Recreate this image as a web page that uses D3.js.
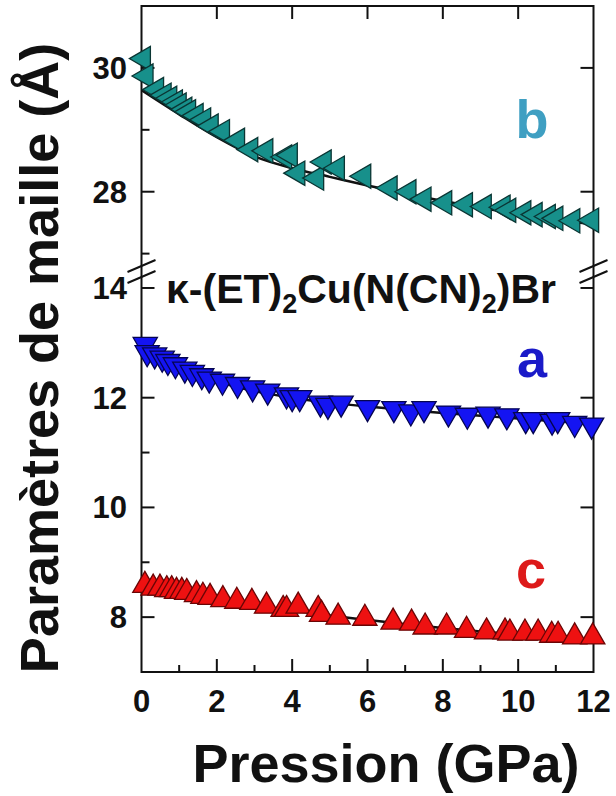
<!DOCTYPE html>
<html>
<head>
<meta charset="utf-8">
<script src="https://cdn.jsdelivr.net/npm/d3@7"></script>
<style>
  html, body { margin: 0; padding: 0; background: #fff; }
  svg { display: block; }
  text { font-family: "Liberation Sans", Arial, sans-serif; font-weight: bold; }
</style>
</head>
<body>
<svg id="chart" width="616" height="796"></svg>
<script>
// ---- data ----
const bX = [0.05, 0.12, 0.4, 0.6, 0.75, 0.9, 1.0, 1.15, 1.25, 1.45, 1.65, 1.85, 2.15, 2.55, 2.9, 3.3, 3.8, 3.95, 4.15, 4.65, 4.85, 5.2, 5.9, 6.6, 7.1, 7.5, 8.05, 8.6, 9.1, 9.6, 9.75, 10.15, 10.45, 10.8, 11.0, 11.45, 11.95];
const bV = [30.15, 29.87, 29.65, 29.56, 29.51, 29.45, 29.40, 29.33, 29.29, 29.23, 29.16, 29.06, 28.97, 28.83, 28.68, 28.66, 28.56, 28.59, 28.30, 28.22, 28.48, 28.38, 28.25, 28.06, 28.00, 27.88, 27.82, 27.79, 27.76, 27.75, 27.70, 27.66, 27.63, 27.60, 27.57, 27.53, 27.54];

const aX = [0.1, 0.15, 0.35, 0.55, 0.7, 0.9, 1.15, 1.35, 1.6, 1.8, 2.15, 2.55, 2.95, 3.35, 3.85, 4.0, 4.2, 4.75, 4.95, 5.3, 6.0, 6.7, 7.15, 7.5, 8.15, 8.65, 9.2, 9.7, 10.2, 10.4, 10.9, 11.05, 11.5, 11.95];
const aV = [12.97, 12.82, 12.78, 12.72, 12.66, 12.60, 12.52, 12.46, 12.40, 12.34, 12.30, 12.24, 12.18, 12.12, 12.05, 12.00, 12.00, 11.90, 11.86, 11.90, 11.82, 11.80, 11.74, 11.80, 11.72, 11.68, 11.70, 11.67, 11.60, 11.60, 11.57, 11.60, 11.53, 11.50];

const cX = [0.09, 0.31, 0.49, 0.67, 0.8, 0.93, 1.07, 1.2, 1.46, 1.63, 1.82, 2.16, 2.53, 2.93, 3.32, 3.76, 3.85, 4.16, 4.69, 4.78, 5.22, 5.93, 6.68, 7.17, 7.53, 8.1, 8.63, 9.16, 9.65, 9.78, 10.18, 10.53, 10.89, 11.06, 11.5, 11.98];
const cV = [8.58, 8.53, 8.53, 8.50, 8.50, 8.47, 8.47, 8.45, 8.41, 8.38, 8.36, 8.32, 8.29, 8.27, 8.20, 8.14, 8.14, 8.20, 8.14, 8.05, 8.00, 7.98, 7.91, 7.89, 7.82, 7.82, 7.76, 7.73, 7.73, 7.71, 7.71, 7.71, 7.67, 7.67, 7.64, 7.64];

const fitX = [0, 1, 2, 3, 4, 5, 6, 7, 8, 9, 10, 11, 12];
const bFit = [29.64, 29.25, 28.88, 28.57, 28.38, 28.24, 28.10, 27.97, 27.85, 27.74, 27.64, 27.55, 27.47];
const aFit = [12.90, 12.56, 12.30, 12.12, 12.00, 11.91, 11.84, 11.78, 11.72, 11.67, 11.62, 11.57, 11.52];
const cFit = [8.47, 8.38, 8.29, 8.20, 8.12, 8.03, 7.95, 7.87, 7.80, 7.74, 7.68, 7.62, 7.57];

const xTickMajor = [0, 2, 4, 6, 8, 10, 12];
const xTickMinor = [1, 3, 5, 7, 9, 11];
const yTopMajor = [28, 30];
const yTopMinor = [27, 29];
const yBotMajor = [8, 10, 12, 14];
const yBotMinor = [9, 11, 13];

const seriesNames = ["b", "a", "c"];
const xTitle = "Pression (GPa)";
const yTitle = "Paramètres de maille (Å)";

// ---- layout ----
const L = 141.5, R = 593.5, T = 6, B = 672;
const svg = d3.select("#chart");

const x = d3.scaleLinear().domain([0, 12]).range([L, R]);
const yTop = d3.scaleLinear().domain([26.8, 31]).range([266, T]);
const yBot = d3.scaleLinear().domain([7, 14.2]).range([B, 277]);

// frame
svg.append("rect").attr("x", L).attr("y", T).attr("width", R - L).attr("height", B - T)
  .attr("fill", "none").attr("stroke", "#111").attr("stroke-width", 2);

// ticks
const tk = svg.append("g").attr("stroke", "#111").attr("stroke-width", 2);
xTickMajor.filter(d => d > 0 && d < 12).forEach(d => {
  tk.append("line").attr("x1", x(d)).attr("x2", x(d)).attr("y1", B).attr("y2", B - 13);
  tk.append("line").attr("x1", x(d)).attr("x2", x(d)).attr("y1", T).attr("y2", T + 13);
});
xTickMinor.forEach(d => {
  tk.append("line").attr("x1", x(d)).attr("x2", x(d)).attr("y1", B).attr("y2", B - 7);
});
function yTicks(scale, major, minor) {
  major.forEach(d => {
    tk.append("line").attr("x1", L).attr("x2", L + 13).attr("y1", scale(d)).attr("y2", scale(d));
    tk.append("line").attr("x1", R).attr("x2", R - 13).attr("y1", scale(d)).attr("y2", scale(d));
  });
  minor.forEach(d => {
    tk.append("line").attr("x1", L).attr("x2", L + 8).attr("y1", scale(d)).attr("y2", scale(d));
  });
}
yTicks(yTop, yTopMajor, yTopMinor);
yTicks(yBot, yBotMajor, yBotMinor);

// break marks
[L, R].forEach(cx => {
  [0, 11].forEach(off => {
    tk.append("line").attr("x1", cx - 14).attr("y1", 272 + off).attr("x2", cx + 14).attr("y2", 260 + off);
  });
});

// tick labels
const tl = svg.append("g").attr("font-size", 31).attr("fill", "#111");
xTickMajor.forEach(d => {
  tl.append("text").attr("x", x(d)).attr("y", 712).attr("text-anchor", "middle").text(d);
});
yTopMajor.forEach(d => {
  tl.append("text").attr("x", 127).attr("y", yTop(d) + 11).attr("text-anchor", "end").text(d);
});
yBotMajor.forEach(d => {
  tl.append("text").attr("x", 127).attr("y", yBot(d) + 11).attr("text-anchor", "end").text(d);
});

// axis titles
svg.append("text").attr("x", 386).attr("y", 782).attr("text-anchor", "middle")
  .attr("font-size", 54).attr("fill", "#111").text(xTitle);
svg.append("text").attr("transform", "translate(58,358) rotate(-90)").attr("text-anchor", "middle")
  .attr("font-size", 54).attr("fill", "#111").text(yTitle);

// fit lines
const lineTop = d3.line().x((d, i) => x(fitX[i])).y(d => yTop(d)).curve(d3.curveMonotoneX);
const lineBot = d3.line().x((d, i) => x(fitX[i])).y(d => yBot(d)).curve(d3.curveMonotoneX);
svg.append("path").attr("d", lineTop(bFit)).attr("fill", "none").attr("stroke", "#111").attr("stroke-width", 2.5);
svg.append("path").attr("d", lineBot(aFit)).attr("fill", "none").attr("stroke", "#111").attr("stroke-width", 2.5);
svg.append("path").attr("d", lineBot(cFit)).attr("fill", "none").attr("stroke", "#111").attr("stroke-width", 2.5);

// markers
const tri = d3.symbol().type(d3.symbolTriangle).size(255);
function markers(xs, vs, scale, rot, fill, stroke) {
  svg.append("g").selectAll("path").data(xs).join("path")
    .attr("d", tri)
    .attr("transform", (d, i) => `translate(${x(d)},${scale(vs[i])}) rotate(${rot})`)
    .attr("fill", fill).attr("stroke", stroke).attr("stroke-width", 1.3);
}
markers(bX, bV, yTop, -90, "#17908b", "#0a3533");
markers(aX, aV, yBot, 180, "#1414f2", "#050550");
markers(cX, cV, yBot, 0, "#ee1111", "#6a0505");

// series labels
const sl = svg.append("g").attr("font-size", 54).attr("text-anchor", "middle");
sl.append("text").attr("x", 532).attr("y", 138).attr("fill", "#3f9fc2").text(seriesNames[0]);
sl.append("text").attr("x", 532).attr("y", 377).attr("fill", "#1a1ac8").text(seriesNames[1]);
sl.append("text").attr("x", 531).attr("y", 588).attr("fill", "#dd1a1a").text(seriesNames[2]);

// compound title
const title = svg.append("text").attr("x", 166).attr("y", 303).attr("font-size", 41).attr("fill", "#111");
title.append("tspan").text("κ-(ET)");
title.append("tspan").attr("font-size", 27).attr("dy", 10).text("2");
title.append("tspan").attr("dy", -10).text("Cu(N(CN)");
title.append("tspan").attr("font-size", 27).attr("dy", 10).text("2");
title.append("tspan").attr("dy", -10).text(")Br");
</script>
</body>
</html>
